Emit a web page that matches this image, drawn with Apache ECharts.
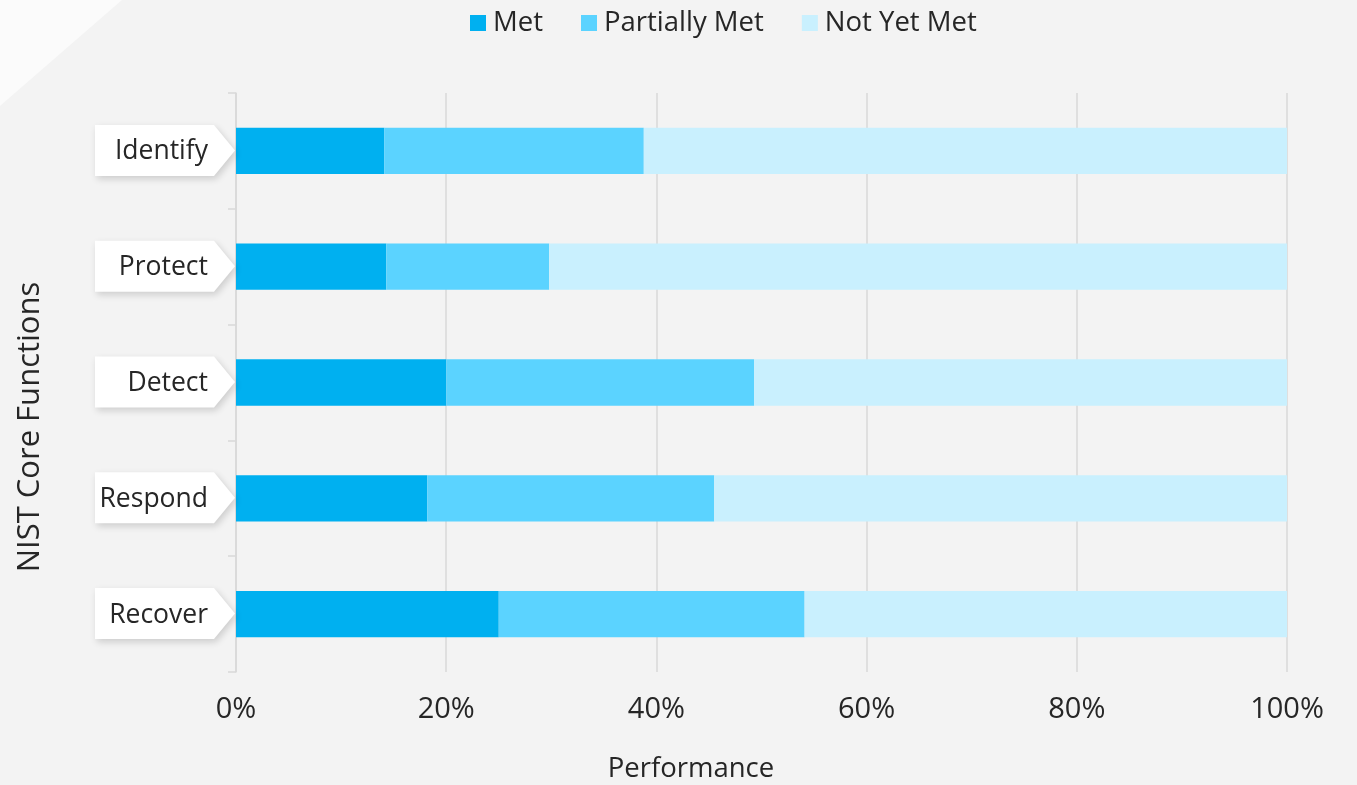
<!DOCTYPE html>
<html>
<head>
<meta charset="utf-8">
<script src="https://cdn.jsdelivr.net/npm/echarts@6/dist/echarts.min.js"></script>
<style>
html,body{margin:0;padding:0;background:#f3f3f3;}
#chart{width:1357px;height:785px;}
</style>
</head>
<body>
<div id="chart"></div>
<script>
var categories = ['Identify', 'Protect', 'Detect', 'Respond', 'Recover'];
var metValues = [14.1, 14.3, 20.0, 18.2, 25.0];
var partiallyMetValues = [24.7, 15.5, 29.3, 27.3, 29.1];
var notYetMetValues = [61.2, 70.2, 50.7, 54.5, 45.9];
var seriesNames = ['Met', 'Partially Met', 'Not Yet Met'];
var xTickFormat = '{value}%';

var FONT = '"Open Sans", Lato, sans-serif';
var TEXT = '#262626';

var chart = echarts.init(document.getElementById('chart'));

function barSeries(name, data, color) {
  return {
    name: name, type: 'bar', stack: 'total', data: data,
    barWidth: '40%',
    itemStyle: { color: color },
    emphasis: { disabled: true }
  };
}

var option = {
  backgroundColor: '#f3f3f3',
  animation: false,
  legend: {
    data: seriesNames,
    top: 4, left: 465,
    icon: 'rect', itemWidth: 16, itemHeight: 16, itemGap: 38,
    textStyle: { fontFamily: FONT, fontSize: 27.5, color: TEXT, padding: [0, 0, 0, 2] }
  },
  grid: { left: 236, right: 70, top: 93, bottom: 113 },
  xAxis: {
    type: 'value', min: 0, max: 100, interval: 20,
    axisLine: { show: false }, axisTick: { show: false },
    splitLine: { show: true, lineStyle: { color: '#d9d9d9', width: 1.5 } },
    axisLabel: { formatter: xTickFormat, fontFamily: FONT, fontSize: 29, color: TEXT, margin: 23 }
  },
  yAxis: {
    type: 'category', data: categories, inverse: true,
    axisLine: { show: true, lineStyle: { color: '#d9d9d9', width: 1.5 } },
    axisTick: { show: true, length: 8, lineStyle: { color: '#d9d9d9', width: 1.5 } },
    axisLabel: { show: false }
  },
  graphic: [
    { type: 'polygon', silent: true, z: -10,
      shape: { points: [[0, 0], [122, 0], [0, 106]] },
      style: { fill: '#fbfbfb' } },
    { type: 'text', x: 30, y: 427, rotation: Math.PI / 2,
      style: { text: 'NIST Core Functions', align: 'center', verticalAlign: 'middle',
               font: '31px ' + FONT, fill: TEXT } },
    { type: 'text', x: 691, y: 769,
      style: { text: 'Performance', align: 'center', verticalAlign: 'middle',
               font: '27.5px ' + FONT, fill: TEXT } }
  ],
  series: [
    barSeries(seriesNames[0], metValues, '#00b0f0'),
    barSeries(seriesNames[1], partiallyMetValues, '#5bd3ff'),
    barSeries(seriesNames[2], notYetMetValues, '#c9f0fe'),
    {
      type: 'custom', name: 'labels', silent: true, z: 5,
      data: categories.map(function (c, i) { return [0, i]; }),
      encode: { x: 0, y: 1 },
      renderItem: function (params, api) {
        var p = api.coord([0, api.value(1)]);
        var h = 51, x = p[0] - 1, y = p[1] - 0.5;
        return {
          type: 'group',
          children: [
            { type: 'polygon',
              shape: { points: [[x - 140, y - h / 2], [x - 21, y - h / 2], [x, y], [x - 21, y + h / 2], [x - 140, y + h / 2]] },
              style: { fill: '#ffffff', shadowBlur: 7, shadowOffsetX: 2, shadowOffsetY: 3, shadowColor: 'rgba(0,0,0,0.16)' } },
            { type: 'text',
              style: { text: categories[params.dataIndex], x: x - 27, y: y + 1.5, align: 'right', verticalAlign: 'middle',
                       font: '26.5px ' + FONT, fill: TEXT } }
          ]
        };
      }
    }
  ]
};
chart.setOption(option);
</script>
</body>
</html>
